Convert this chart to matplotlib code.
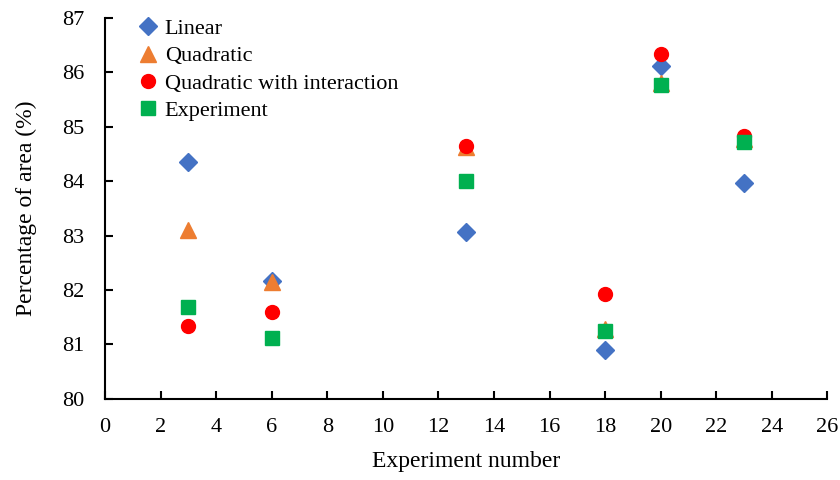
import matplotlib.pyplot as plt

# experiment numbers and predicted / measured percentage of area
experiments = [3, 6, 13, 18, 20, 23]
linear = [84.35, 82.17, 83.07, 80.90, 86.12, 83.96]
quadratic = [83.10, 82.14, 84.62, 81.28, 85.80, 84.78]
quad_inter = [81.34, 81.60, 84.65, 81.93, 86.33, 84.84]
measured = [81.69, 81.12, 84.01, 81.25, 85.76, 84.72]

plt.rcParams['font.family'] = ['Liberation Serif', 'DejaVu Serif']

fig, ax = plt.subplots(figsize=(8.4, 4.8), dpi=100)
fig.subplots_adjust(left=0.125, right=0.985, bottom=0.169, top=0.9625)

ax.plot(experiments, linear, 'D', color='#4472C4', markersize=9.5, label='Linear', linestyle='none')
ax.plot(experiments, quadratic, '^', color='#ED7D31', markersize=11, label='Quadratic', linestyle='none')
ax.plot(experiments, quad_inter, 'o', color='#FF0000', markersize=10, label='Quadratic with interaction', linestyle='none')
ax.plot(experiments, measured, 's', color='#00B050', markersize=9.5, label='Experiment', linestyle='none')

ax.set_xlim(0, 26)
ax.set_ylim(80, 87)
ax.set_xticks(range(0, 27, 2))
ax.set_yticks(range(80, 88))

for side in ['top', 'right']:
    ax.spines[side].set_visible(False)
for side in ['left', 'bottom']:
    ax.spines[side].set_linewidth(1.5)
    ax.spines[side].set_color('black')

ax.tick_params(direction='in', length=6, width=1.5, labelsize=16)
ax.tick_params(axis='x', pad=14)
ax.tick_params(axis='y', pad=15)
ax.set_xlabel('Experiment number', fontsize=17, labelpad=10)
ax.set_ylabel('Percentage of area (%)', fontsize=17, labelpad=18)

ax.legend(loc='upper left', frameon=False, fontsize=16, handlelength=1.0,
          handletextpad=0.25, labelspacing=0.3, borderaxespad=0.0,
          bbox_to_anchor=(0.032, 1.022))

fig.savefig('out.png', dpi=100)
